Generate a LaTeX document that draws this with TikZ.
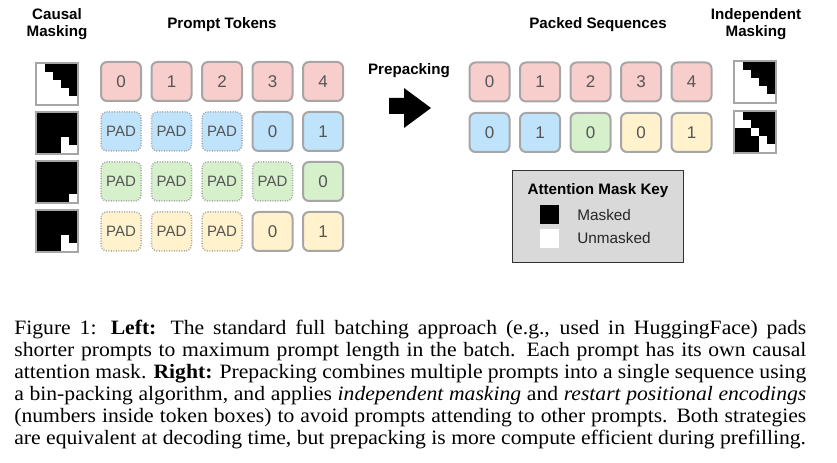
\documentclass[tikz,border=0pt]{standalone}
\usepackage{fontspec}
\setmainfont{Liberation Serif}[FakeStretch=1.06]
\setsansfont{Liberation Sans}
\usepackage{tikz}

\definecolor{tokred}{HTML}{F8CECC}
\definecolor{tokblue}{HTML}{BFE3FB}
\definecolor{tokgreen}{HTML}{D5F0CB}
\definecolor{tokyellow}{HTML}{FFF2CC}
\definecolor{tokline}{HTML}{A6A6A6}
\definecolor{tokdigit}{HTML}{555555}
\definecolor{keyfill}{HTML}{D9D9D9}

% mask at (x, top) with a list of unmasked row/col cells
\newcommand{\drawmask}[3]{%
  \fill[black] (#1+2,#2+2) rectangle ++(40,40);
  \foreach \r/\c in {#3} \fill[white] (#1+2+8*\c,#2+2+8*\r) rectangle ++(8,8);
  \draw[maskline] (#1+1,#2+1) rectangle ++(42,42);}

\begin{document}
\begin{tikzpicture}[x=0.6pt,y=-0.6pt,
  hdr/.style={font=\sffamily\bfseries\fontsize{9.1}{11}\selectfont,inner sep=0,anchor=base},
  tok/.style={draw=tokline,line width=1.2pt,rounded corners=3.6pt,minimum width=24pt,minimum height=23.4pt,inner sep=0,text=tokdigit,font=\sffamily\fontsize{10.2}{12}\selectfont},
  padtok/.style={tok,line width=0.9pt,dash pattern=on 0.6pt off 0.9pt,font=\sffamily\fontsize{9}{11}\selectfont},
  maskline/.style={draw=tokline,line width=1.2pt},
  keytext/.style={font=\sffamily\fontsize{9.2}{11}\selectfont,inner sep=0,anchor=west,text=black!85}]
  \useasboundingbox (0,0) rectangle (837,463);

  % headers
  \node[hdr] (cm1) at (57,20) {Causal};
  \node[hdr] (cm2) at (57,37) {Masking};
  \node[hdr] (pt) at (222,28.5) {Prompt Tokens};
  \node[hdr] (pp) at (409,75) {Prepacking};
  \node[hdr] (ps) at (598,28.5) {Packed Sequences};
  \node[hdr] (im1) at (756,20) {Independent};
  \node[hdr] (im2) at (756,37) {Masking};

  % prompt tokens
  \foreach \i in {0,...,4}
    \node[tok,fill=tokred] (p0\i) at (121+50.5*\i,81.5) {\i};
  \foreach \r/\col/\n in {1/tokblue/3,2/tokgreen/4,3/tokyellow/3}
    \foreach \i in {0,...,4}{
      \pgfmathtruncatemacro\d{\i-\n}
      \ifnum\d<0
        \node[padtok,fill=\col] (p\r\i) at (121+50.5*\i,81.5+50*\r) {PAD};
      \else
        \node[tok,fill=\col] (p\r\i) at (121+50.5*\i,81.5+50*\r) {\d};
      \fi}

  % causal masks
  \drawmask{35}{62}{0/0,1/0,1/1,2/0,2/1,2/2,3/0,3/1,3/2,3/3,4/0,4/1,4/2,4/3,4/4}
  \drawmask{35}{111}{3/3,4/3,4/4}
  \drawmask{35}{160}{4/4}
  \drawmask{35}{209}{3/3,4/3,4/4}

  % prepacking arrow
  \fill[black] (389,98) -- (404,98) -- (404,88) -- (431,108) -- (404,128) -- (404,114) -- (389,114) -- cycle;

  % packed sequences
  \foreach \i in {0,...,4}
    \node[tok,fill=tokred] (q0\i) at (489.5+50.5*\i,82) {\i};
  \foreach \col/\t [count=\i from 0] in {tokblue/0,tokblue/1,tokgreen/0,tokyellow/0,tokyellow/1}
    \node[tok,fill=\col] (q1\i) at (489.5+50.5*\i,132.5) {\t};

  % independent masks
  \drawmask{733}{60}{0/0,1/0,1/1,2/0,2/1,2/2,3/0,3/1,3/2,3/3,4/0,4/1,4/2,4/3,4/4}
  \drawmask{733}{110}{0/0,1/0,1/1,2/2,3/3,4/3,4/4}

  % key
  \node[draw=black!80,fill=keyfill,line width=0.8pt,minimum width=102.6pt,minimum height=55.2pt,inner sep=0] (key) at (598,216.5) {};
  \node[hdr] (keyt) at (598,195) {Attention Mask Key};
  \node[fill=black,minimum size=11.4pt,inner sep=0] (km) at (549.5,214.5) {};
  \node[fill=white,minimum size=11.4pt,inner sep=0] (ku) at (549.5,238.5) {};
  \node[keytext] (kml) at (577,215) {Masked};
  \node[keytext] (kul) at (577,238.5) {Unmasked};

  % caption
  \node[anchor=north west,inner sep=0,text width=475.2pt,align=justify,font=\fontsize{12.25}{13.2}\selectfont] (cap) at (14,320)
    {Figure 1: \textbf{Left:} The standard full batching approach (e.g., used in HuggingFace) pads\linebreak
     shorter prompts to maximum prompt length in the batch. Each prompt has its own causal\linebreak
     attention mask. \textbf{Right:} Prepacking combines multiple prompts into a single sequence using\linebreak
     a bin-packing algorithm, and applies \emph{independent masking} and \emph{restart positional encodings}\linebreak
     (numbers inside token boxes) to avoid prompts attending to other prompts. Both strategies\linebreak
     are equivalent at decoding time, but prepacking is more compute efficient during prefilling.};
\end{tikzpicture}
\end{document}
